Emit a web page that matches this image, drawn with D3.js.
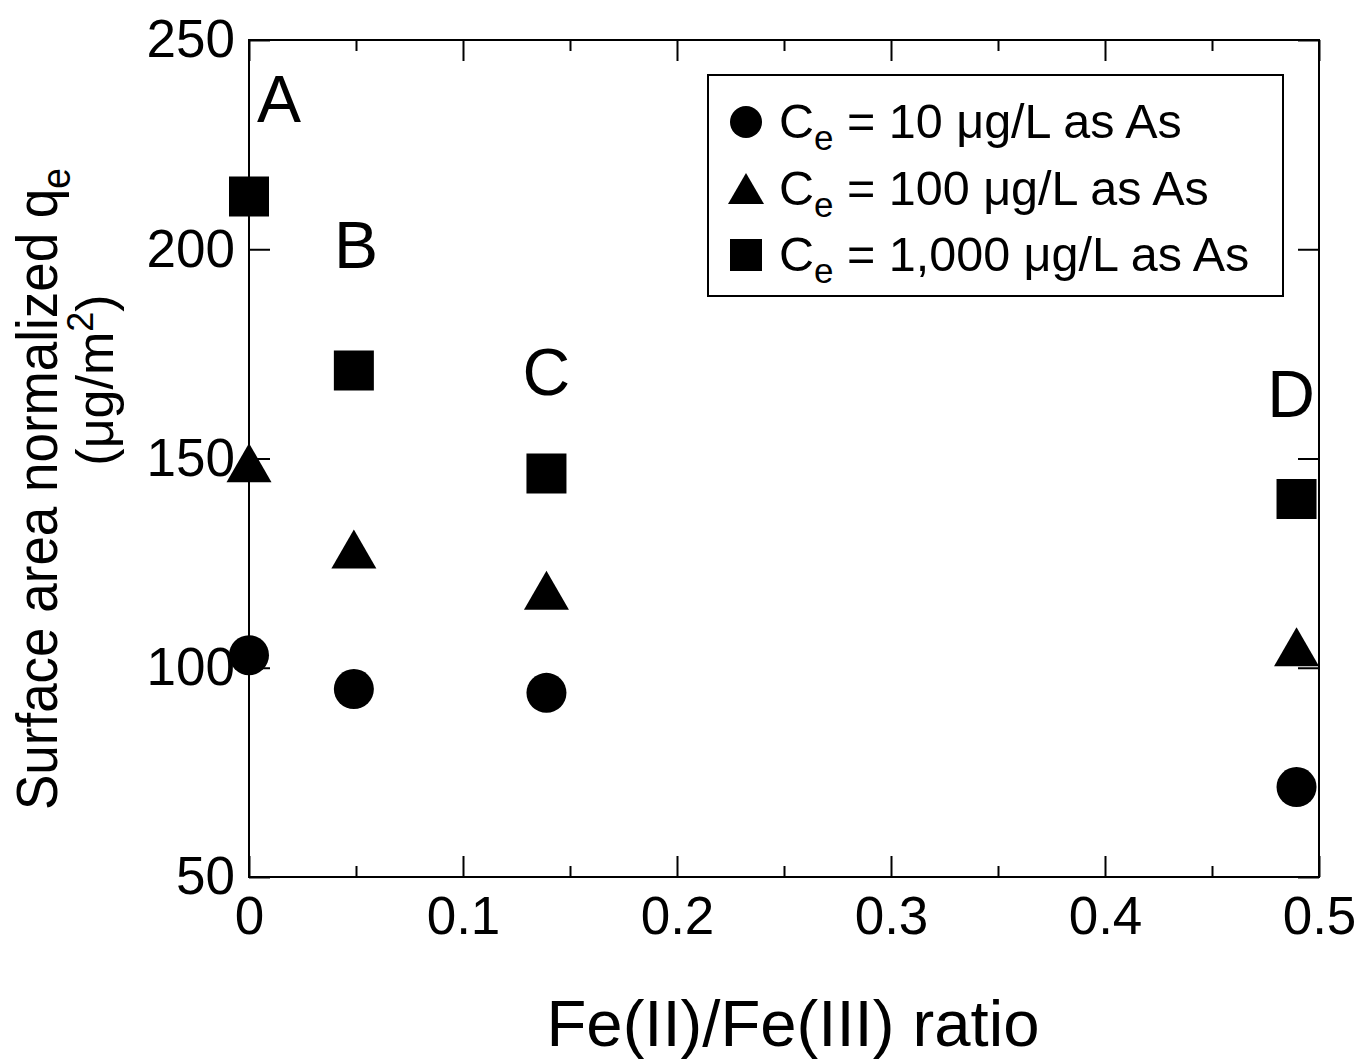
<!DOCTYPE html>
<html>
<head>
<meta charset="utf-8">
<script src="https://cdn.jsdelivr.net/npm/d3@7"></script>
<style>
  html, body { margin: 0; padding: 0; background: #fff; }
  svg text { font-family: 'Liberation Sans', Arial, sans-serif; fill: #000; }
</style>
</head>
<body>
<div id="chart"></div>
<script>
// Fe(II)/Fe(III) ratio of samples A-D
const ratios = [0, 0.049, 0.139, 0.4895]
// surface area normalized qe (ug/m2) per equilibrium concentration
const qe10   = [103, 94.9, 94, 71.5]
const qe100  = [149, 128.4, 118.5, 105]
const qe1000 = [212.6, 171, 146.4, 140.3]
const sampleLabels = ['A', 'B', 'C', 'D']
// where the sample letter sits, in data units (x ratio, baseline qe)
const labelX = [0.014, 0.05, 0.139, 0.487]
const labelY = [230.4, 195.5, 165.2, 159.9]
const xTicks = [0, 0.1, 0.2, 0.3, 0.4, 0.5]
const xMinorTicks = [0.05, 0.15, 0.25, 0.35, 0.45]
const yTicks = [50, 100, 150, 200, 250]
const legendLabels = ['10', '100', '1,000']

const width = 1363,
      height = 1059,
      margin = { left: 249, top: 40, right: 44, bottom: 182 }

const svg = d3.select('#chart')
  .append('svg')
  .attr('width', width)
  .attr('height', height)

const innerW = width - margin.left - margin.right,
      innerH = height - margin.top - margin.bottom

const scale = {
  x: d3.scaleLinear().domain([0, 0.5]).range([0, innerW]),
  y: d3.scaleLinear().domain([50, 250]).range([innerH, 0])
}

const chartArea = svg.append('g')
  .attr('transform', `translate(${margin.left}, ${margin.top})`)

// triangle centred on its bounding box, size = side length
const triangleBox = {
  draw(context, size) {
    const h = size * Math.sqrt(3) / 2
    context.moveTo(0, -h / 2)
    context.lineTo(size / 2, h / 2)
    context.lineTo(-size / 2, h / 2)
    context.closePath()
  }
}

// axes: ticks point inward on all four sides
const axisStyle = g => {
  g.select('.domain').remove()
  g.selectAll('line').attr('stroke', '#000').attr('stroke-width', 2)
  g.selectAll('text').style('font-size', '53px')
}

chartArea.append('g')
  .attr('transform', `translate(0, ${innerH})`)
  .call(d3.axisBottom(scale.x).tickValues(xTicks).tickSize(-21).tickPadding(19)
    .tickFormat(d => d === 0 ? '0' : d3.format('.1f')(d)))
  .call(axisStyle)
chartArea.append('g')
  .attr('transform', `translate(0, ${innerH})`)
  .call(d3.axisBottom(scale.x).tickValues(xMinorTicks).tickSize(-11).tickFormat(''))
  .call(axisStyle)
chartArea.append('g')
  .call(d3.axisTop(scale.x).tickValues(xTicks).tickSize(-21).tickFormat(''))
  .call(axisStyle)
chartArea.append('g')
  .call(d3.axisTop(scale.x).tickValues(xMinorTicks).tickSize(-11).tickFormat(''))
  .call(axisStyle)

chartArea.append('g')
  .call(d3.axisLeft(scale.y).tickValues(yTicks).tickSize(-21).tickPadding(14))
  .call(axisStyle)
chartArea.append('g')
  .attr('transform', `translate(${innerW}, 0)`)
  .call(d3.axisRight(scale.y).tickValues(yTicks).tickSize(-21).tickFormat(''))
  .call(axisStyle)

// frame
chartArea.append('rect')
  .attr('width', innerW)
  .attr('height', innerH)
  .attr('fill', 'none')
  .attr('stroke', '#000')
  .attr('stroke-width', 2)

// data points
const series = [
  { values: qe10,   type: d3.symbolCircle, size: Math.PI * 20 * 20 },
  { values: qe100,  type: triangleBox,     size: 45 },
  { values: qe1000, type: d3.symbolSquare, size: 40 * 40 }
]

series.forEach(s => {
  chartArea.append('g')
    .selectAll('path')
    .data(s.values)
    .join('path')
      .attr('d', d3.symbol().type(s.type).size(s.size))
      .attr('transform', (d, i) => `translate(${scale.x(ratios[i])}, ${scale.y(d)})`)
      .attr('fill', '#000')
})

// sample letters
chartArea.append('g')
  .selectAll('text')
  .data(sampleLabels)
  .join('text')
    .attr('x', (d, i) => scale.x(labelX[i]))
    .attr('y', (d, i) => scale.y(labelY[i]))
    .attr('text-anchor', 'middle')
    .style('font-size', '66px')
    .text(d => d)

// legend
const legend = svg.append('g').attr('transform', 'translate(708, 75)')
legend.append('rect')
  .attr('width', 575)
  .attr('height', 221)
  .attr('fill', '#fff')
  .attr('stroke', '#000')
  .attr('stroke-width', 2)

const legendSymbols = [
  { type: d3.symbolCircle, size: Math.PI * 16 * 16 },
  { type: triangleBox,     size: 36 },
  { type: d3.symbolSquare, size: 32 * 32 }
]

legendLabels.forEach((lab, i) => {
  const row = legend.append('g').attr('transform', `translate(0, ${47 + i * 66.5})`)
  row.append('path')
    .attr('d', d3.symbol().type(legendSymbols[i].type).size(legendSymbols[i].size))
    .attr('transform', 'translate(38, 0)')
    .attr('fill', '#000')
  const t = row.append('text')
    .attr('x', 71)
    .attr('y', 16)
    .style('font-size', '48.5px')
  t.append('tspan').text('C')
  t.append('tspan').attr('dy', 12).style('font-size', '35px').text('e')
  t.append('tspan').attr('dy', -12).text(` = ${lab} μg/L as As`)
})

// axis titles
svg.append('text')
  .attr('x', 793)
  .attr('y', 1046)
  .attr('text-anchor', 'middle')
  .attr('textLength', 493)
  .attr('lengthAdjust', 'spacingAndGlyphs')
  .style('font-size', '65px')
  .text('Fe(II)/Fe(III) ratio')

const yTitle1 = svg.append('text')
  .attr('transform', 'translate(57, 489) rotate(-90)')
  .attr('text-anchor', 'middle')
  .attr('textLength', 642)
  .attr('lengthAdjust', 'spacingAndGlyphs')
  .style('font-size', '57px')
yTitle1.append('tspan').text('Surface area normalized q')
yTitle1.append('tspan').attr('dy', 13).style('font-size', '40px').text('e')

const yTitle2 = svg.append('text')
  .attr('transform', 'translate(113, 380) rotate(-90)')
  .attr('text-anchor', 'middle')
  .style('font-size', '52px')
yTitle2.append('tspan').text('(μg/m')
yTitle2.append('tspan').attr('dy', -20).style('font-size', '36px').text('2')
yTitle2.append('tspan').attr('dy', 20).text(')')
</script>
</body>
</html>
